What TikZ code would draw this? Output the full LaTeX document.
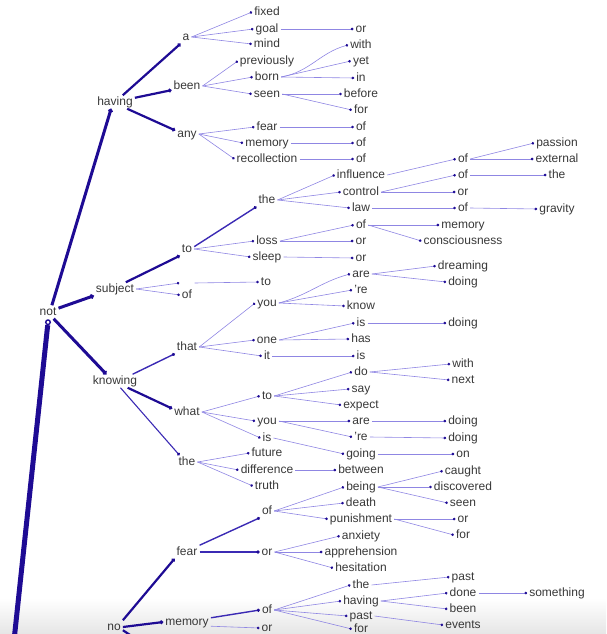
\documentclass[tikz,border=0pt]{standalone}
\usepackage{fontspec}
\setmainfont{Liberation Sans}
\usepackage{xcolor}
\usepackage{tikz}
\usetikzlibrary{positioning, arrows.meta, calc}
\definecolor{treeink}{HTML}{1E0B94}
\definecolor{treemid}{HTML}{3B2AB4}
\definecolor{treelink}{HTML}{8F86E3}
\definecolor{wordgray}{HTML}{383838}

\tikzset{
  word/.style={inner xsep=2pt, inner ysep=1pt, text height=8.6pt, text depth=2.5pt,
               text=wordgray, font=\fontsize{12}{14}\selectfont},
  link/.style={draw=treelink, line width=0.6pt, -{Circle[length=2.6pt, color=treeink]}},
  linkmid/.style={draw=treemid, line width=1.4pt, -{Circle[length=3pt, color=treeink]}},
  linkbold/.style={draw=treeink, line width=2.2pt, -{Circle[length=3.6pt]}},
  linkheavy/.style={draw=treeink, line width=3pt, -{Circle[length=4.4pt]}},
  ring/.style={circle, draw=treeink, fill=white, line width=1.4pt, inner sep=1.6pt},
}

\begin{document}
\begin{tikzpicture}[x=1pt, y=-1pt]
    \useasboundingbox (0,0) rectangle (606,634);
    \shade[top color=white, bottom color=black!10] (0,598) rectangle (606,634);

    % root
    \node[word] (not) at (48,312) {not};
    \node[ring] (notring) [below=0.5pt of not] {};
    \coordinate (stembase) at (13,650);
    \draw[treeink, line width=5pt] (stembase) -- (notring);

    \node[word] (having) at (115,102) {having};
    \node[word] (subject) at (115,289) {subject};
    \node[word] (knowing) at (115,381) {knowing};
    \node[word] (no) at (114,627) {no};

    % having
    \node[word] (h-a) at (186,37) {a};
    \node[word] (h-been) at (187,86) {been};
    \node[word] (h-any) at (187,134) {any};
    \node[word] (a-fixed) at (267,12) {fixed};
    \node[word] (a-goal) at (267,29) {goal};
    \node[word] (a-mind) at (267,44) {mind};
    \node[word] (a-or) at (361,29) {or};
    \node[word] (b-prev) at (267,61) {previously};
    \node[word] (b-born) at (267,77) {born};
    \node[word] (b-seen) at (267,94) {seen};
    \node[word] (b-with) at (361,45) {with};
    \node[word] (b-yet) at (361,61) {yet};
    \node[word] (b-in) at (361,78) {in};
    \node[word] (b-before) at (361,94) {before};
    \node[word] (b-for) at (361,110) {for};
    \node[word] (y-fear) at (267,127) {fear};
    \node[word] (y-mem) at (267,143) {memory};
    \node[word] (y-rec) at (267,159) {recollection};
    \node[word] (y-of1) at (361,127) {of};
    \node[word] (y-of2) at (361,143) {of};
    \node[word] (y-of3) at (361,159) {of};

    % subject
    \node[word] (s-to) at (187,249) {to};
    \node[word, minimum width=15pt] (s-blank) at (187,283) {};
    \node[word] (s-of) at (187,295) {of};
    \node[word] (s-to2) at (266,282) {to};
    \node[word] (t-the) at (267,200) {the};
    \node[word] (t-loss) at (267,241) {loss};
    \node[word] (t-sleep) at (267,257) {sleep};
    \node[word] (th-infl) at (361,175) {influence};
    \node[word] (th-ctrl) at (361,192) {control};
    \node[word] (th-law) at (361,208) {law};
    \node[word] (in-of) at (463,159) {of};
    \node[word] (in-pass) at (557,143) {passion};
    \node[word] (in-ext) at (557,159) {external};
    \node[word] (ct-of) at (463,175) {of};
    \node[word] (ct-the) at (557,175) {the};
    \node[word] (ct-or) at (463,192) {or};
    \node[word] (lw-of) at (463,208) {of};
    \node[word] (lw-grav) at (557,209) {gravity};
    \node[word] (ls-of) at (361,225) {of};
    \node[word] (ls-or) at (361,241) {or};
    \node[word] (ls-mem) at (463,225) {memory};
    \node[word] (ls-cons) at (463,241) {consciousness};
    \node[word] (sl-or) at (361,258) {or};

    % knowing
    \node[word] (k-that) at (187,347) {that};
    \node[word] (k-what) at (187,412) {what};
    \node[word] (k-the) at (187,462) {the};
    \node[word] (tt-you) at (267,303) {you};
    \node[word] (tt-one) at (267,340) {one};
    \node[word] (tt-it) at (267,356) {it};
    \node[word] (yu-are) at (361,274) {are};
    \node[word] (yu-re) at (361,290) {'re};
    \node[word] (yu-know) at (361,306) {know};
    \node[word] (ar-dream) at (463,266) {dreaming};
    \node[word] (ar-doing) at (463,282) {doing};
    \node[word] (on-is) at (361,323) {is};
    \node[word] (is-doing) at (463,323) {doing};
    \node[word] (on-has) at (361,339) {has};
    \node[word] (it-is) at (361,356) {is};
    \node[word] (wh-to) at (267,396) {to};
    \node[word] (wh-you) at (267,421) {you};
    \node[word] (wh-is) at (267,438) {is};
    \node[word] (to-do) at (361,372) {do};
    \node[word] (to-say) at (361,389) {say};
    \node[word] (to-expect) at (361,405) {expect};
    \node[word] (do-with) at (463,364) {with};
    \node[word] (do-next) at (463,380) {next};
    \node[word] (yo-are) at (361,421) {are};
    \node[word] (ya-doing) at (463,421) {doing};
    \node[word] (yo-re) at (361,437) {'re};
    \node[word] (yr-doing) at (463,438) {doing};
    \node[word] (is-going) at (361,454) {going};
    \node[word] (go-on) at (463,454) {on};
    \node[word] (kt-fut) at (267,453) {future};
    \node[word] (kt-diff) at (267,470) {difference};
    \node[word] (kt-truth) at (267,486) {truth};
    \node[word] (df-betw) at (361,470) {between};

    % no
    \node[word] (n-fear) at (187,552) {fear};
    \node[word] (n-mem) at (187,622) {memory};
    \coordinate (nodown) at (150,648);
    \node[word] (f-of) at (267,511) {of};
    \node[word] (f-or) at (267,552) {or};
    \node[word] (fo-being) at (361,487) {being};
    \node[word] (fo-death) at (361,503) {death};
    \node[word] (fo-pun) at (361,519) {punishment};
    \node[word] (bg-caught) at (463,471) {caught};
    \node[word] (bg-disc) at (463,487) {discovered};
    \node[word] (bg-seen) at (463,503) {seen};
    \node[word] (pn-or) at (463,519) {or};
    \node[word] (pn-for) at (463,535) {for};
    \node[word] (fr-anx) at (361,536) {anxiety};
    \node[word] (fr-appr) at (361,552) {apprehension};
    \node[word] (fr-hes) at (361,568) {hesitation};
    \node[word] (m-of) at (267,610) {of};
    \node[word] (m-or) at (267,628) {or};
    \node[word] (mo-the) at (361,585) {the};
    \node[word] (mo-having) at (361,601) {having};
    \node[word] (mo-past) at (361,616) {past};
    \node[word] (mo-for) at (361,629) {for};
    \node[word] (mt-past) at (463,577) {past};
    \node[word] (mh-done) at (463,593) {done};
    \node[word] (dn-some) at (557,593) {something};
    \node[word] (mh-been) at (463,609) {been};
    \node[word] (mp-events) at (463,625) {events};

    % heavy branches
    \draw[linkheavy] (not.60) -- (having.240);
    \draw[linkheavy] (not.20) -- (subject.south west);
    \draw[linkheavy] (not.-50) -- (knowing.142);
    \draw[linkbold] (having.41) -- (h-a.south west);
    \draw[linkbold] (having.12) -- (h-been.195);
    \draw[linkbold] (having.-29) -- (h-any.163);
    \draw[linkbold] (subject.32) -- (s-to.south west);
    \draw[link] (subject.east) -- (s-blank.west);
    \draw[link] (subject.east) -- (s-of.west);
    \draw[linkmid] (s-to.18) -- (t-the.south west);
    \draw[linkmid] (knowing.21) -- (k-that.south west);
    \draw[linkbold] (knowing.-28) -- (k-what.167);
    \draw[linkmid, line width=1.1pt] (knowing.-51) -- (k-the.138);
    \draw[linkbold] (no.north east) -- (n-fear.south west);
    \draw[linkbold] (no.east) -- (n-mem.west);
    \draw[linkbold] (no.-20) -- (nodown);
    \draw[linkmid] (n-fear.north east) -- (f-of.south west);
    \draw[linkmid] (n-fear.east) -- (f-or.west);
    \draw[linkmid] (n-mem.10) -- (m-of.west);
    \draw[link] (n-mem.-10) -- (m-or.west);
    \draw[link] (b-born.east) to[out=10, in=195] (b-with.west);
    \draw[link] (tt-you.east) to[out=15, in=195] (yu-are.west);

    % thin branches
    \foreach \p/\c in {h-a/a-fixed, h-a/a-goal, h-a/a-mind, a-goal/a-or,
        h-been/b-prev, h-been/b-born, h-been/b-seen, b-born/b-yet, b-born/b-in,
        b-seen/b-before, b-seen/b-for, h-any/y-fear, h-any/y-mem, h-any/y-rec,
        y-fear/y-of1, y-mem/y-of2, y-rec/y-of3,
        s-blank/s-to2, s-to/t-loss, s-to/t-sleep,
        t-the/th-infl, t-the/th-ctrl, t-the/th-law, th-infl/in-of, in-of/in-pass,
        in-of/in-ext, th-ctrl/ct-of, ct-of/ct-the, th-ctrl/ct-or, th-law/lw-of,
        lw-of/lw-grav, t-loss/ls-of, t-loss/ls-or, ls-of/ls-mem, ls-of/ls-cons,
        t-sleep/sl-or,
        k-that/tt-you, k-that/tt-one, k-that/tt-it, tt-you/yu-re, tt-you/yu-know,
        yu-are/ar-dream, yu-are/ar-doing, tt-one/on-is, on-is/is-doing,
        tt-one/on-has, tt-it/it-is,
        k-what/wh-to, k-what/wh-you, k-what/wh-is, wh-to/to-do, wh-to/to-say,
        wh-to/to-expect, to-do/do-with, to-do/do-next, wh-you/yo-are,
        yo-are/ya-doing, wh-you/yo-re, yo-re/yr-doing, wh-is/is-going,
        is-going/go-on, k-the/kt-fut, k-the/kt-diff, k-the/kt-truth,
        kt-diff/df-betw,
        f-of/fo-being, f-of/fo-death, f-of/fo-pun, fo-being/bg-caught,
        fo-being/bg-disc, fo-being/bg-seen, fo-pun/pn-or, fo-pun/pn-for,
        f-or/fr-anx, f-or/fr-appr, f-or/fr-hes,
        m-of/mo-the, m-of/mo-having, m-of/mo-past, m-of/mo-for, mo-the/mt-past,
        mo-having/mh-done, mh-done/dn-some, mo-having/mh-been, mo-past/mp-events}
      \draw[link] (\p.east) -- (\c.west);
\end{tikzpicture}
\end{document}
